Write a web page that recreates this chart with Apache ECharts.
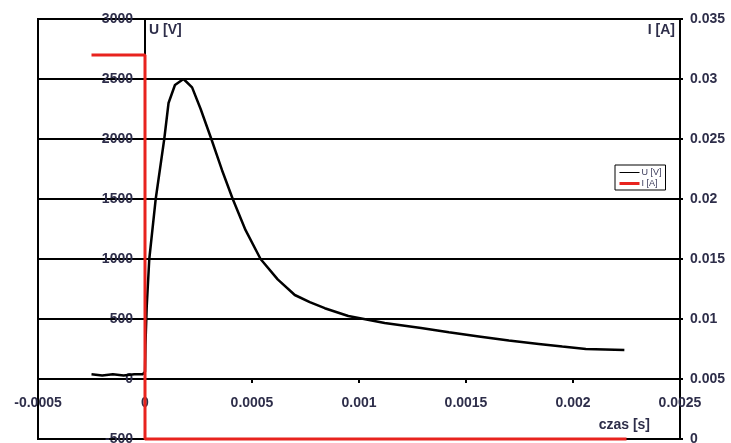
<!DOCTYPE html>
<html>
<head>
<meta charset="utf-8">
<script src="https://cdn.jsdelivr.net/npm/echarts@6/dist/echarts.min.js"></script>
<style>
  html, body { margin: 0; padding: 0; background: #fff; }
  #main { width: 731px; height: 443px; }
</style>
</head>
<body>
<div id="main"></div>
<script>
// czas [s] / U [V]
var uTime = [-0.00025, -0.0002, -0.00015, -0.0001, -0.00005, -0.00001, 0, 0.000002, 0.000008,
  0.00002, 0.00005, 0.00009, 0.00011, 0.00014, 0.00018, 0.00022, 0.00026, 0.00031, 0.00036,
  0.00041, 0.00047, 0.00054, 0.00062, 0.0007, 0.00077, 0.00084, 0.00095, 0.00112, 0.00129,
  0.00142, 0.00156, 0.0017, 0.00184, 0.00195, 0.00206, 0.00224];
var uVolt = [40, 30, 40, 30, 40, 40, 60, 280, 600,
  1000, 1500, 2000, 2300, 2450, 2500, 2430, 2250, 2000, 1740,
  1500, 1240, 1000, 830, 700, 640, 590, 525, 467, 425,
  390, 355, 320, 292, 270, 250, 242];
// czas [s] / I [A]
var iTime = [-0.00025, 0, 0, 0.00225];
var iAmp = [0.032, 0.032, 0, 0];

var xTickLabels = ['-0.0005', '0', '0.0005', '0.001', '0.0015', '0.002', '0.0025'];

function pairs(xs, ys) {
  return xs.map(function (x, i) { return [x, ys[i]]; });
}

var labelFont = { fontFamily: 'Liberation Sans', fontSize: 14, fontWeight: 'bold', color: '#2e2e4a' };

var myChart = echarts.init(document.getElementById('main'));
var option = {
  backgroundColor: '#fff',
  animation: false,
  grid: {
    left: 38, top: 19, width: 642, height: 420,
    outerBoundsMode: 'none',
    containLabel: false,
    show: true, borderColor: '#000', borderWidth: 2
  },
  legend: {
    left: 615, top: 165,
    orient: 'vertical',
    itemWidth: 20, itemHeight: 10, itemGap: 2,
    padding: [3, 4, 2, 3],
    borderColor: '#000', borderWidth: 1,
    backgroundColor: '#fff',
    itemStyle: { opacity: 0 },
    textStyle: { fontFamily: 'Liberation Sans', fontSize: 9, color: '#3a3a5a', padding: [0, 0, 0, -3] },
    data: [
      { name: 'U [V]', lineStyle: { width: 1 } },
      { name: 'I [A]', lineStyle: { width: 3 } }
    ]
  },
  xAxis: {
    type: 'value',
    min: -0.0005, max: 0.0025, interval: 0.0005,
    position: 'bottom',
    offset: -60,
    name: 'czas [s]',
    nameLocation: 'end',
    nameGap: -30,
    nameTextStyle: {
      fontFamily: 'Liberation Sans', fontSize: 14, fontWeight: 'bold', color: '#2e2e4a',
      align: 'right', verticalAlign: 'top', padding: [39, 0, 0, 0]
    },
    axisLine: { onZero: false, lineStyle: { color: '#000', width: 2 } },
    axisTick: { show: true, length: 4, lineStyle: { color: '#000', width: 2 } },
    axisLabel: Object.assign({
      margin: 17,
      formatter: function (v) {
        var i = Math.round((v + 0.0005) / 0.0005);
        return xTickLabels[i];
      }
    }, labelFont),
    splitLine: { show: false }
  },
  yAxis: [{
    type: 'value',
    min: -500, max: 3000, interval: 500,
    position: 'left',
    offset: -107,
    name: 'U [V]',
    nameLocation: 'end',
    nameGap: -18,
    nameTextStyle: {
      fontFamily: 'Liberation Sans', fontSize: 14, fontWeight: 'bold', color: '#2e2e4a',
      align: 'left', padding: [0, 0, 0, 4]
    },
    axisLine: { show: true, onZero: false, lineStyle: { color: '#000', width: 2 } },
    axisTick: { show: false },
    axisLabel: Object.assign({
      margin: 12,
      formatter: function (v) { return String(v); }
    }, labelFont),
    splitLine: { show: true, lineStyle: { color: '#000', width: 2 } }
  }, {
    type: 'value',
    min: 0, max: 0.035, interval: 0.005,
    position: 'right',
    name: 'I [A]',
    nameLocation: 'end',
    nameGap: -18,
    nameTextStyle: {
      fontFamily: 'Liberation Sans', fontSize: 14, fontWeight: 'bold', color: '#2e2e4a',
      align: 'right', padding: [0, 5, 0, 0]
    },
    axisLine: { show: true, onZero: false, lineStyle: { color: '#000', width: 2 } },
    axisTick: { show: true, length: 3, lineStyle: { color: '#000', width: 2 } },
    axisLabel: Object.assign({
      margin: 10,
      formatter: function (v) { return String(+v.toFixed(3)); }
    }, labelFont),
    splitLine: { show: false }
  }],
  series: [{
    name: 'U [V]',
    type: 'line',
    yAxisIndex: 0,
    symbol: 'none',
    data: pairs(uTime, uVolt),
    lineStyle: { color: '#000', width: 2.5 },
    itemStyle: { color: '#000' }
  }, {
    name: 'I [A]',
    type: 'line',
    yAxisIndex: 1,
    symbol: 'none',
    clip: false,
    data: pairs(iTime, iAmp),
    lineStyle: { color: '#e8231e', width: 3 },
    itemStyle: { color: '#e8231e' }
  }]
};
myChart.setOption(option);
</script>
</body>
</html>
